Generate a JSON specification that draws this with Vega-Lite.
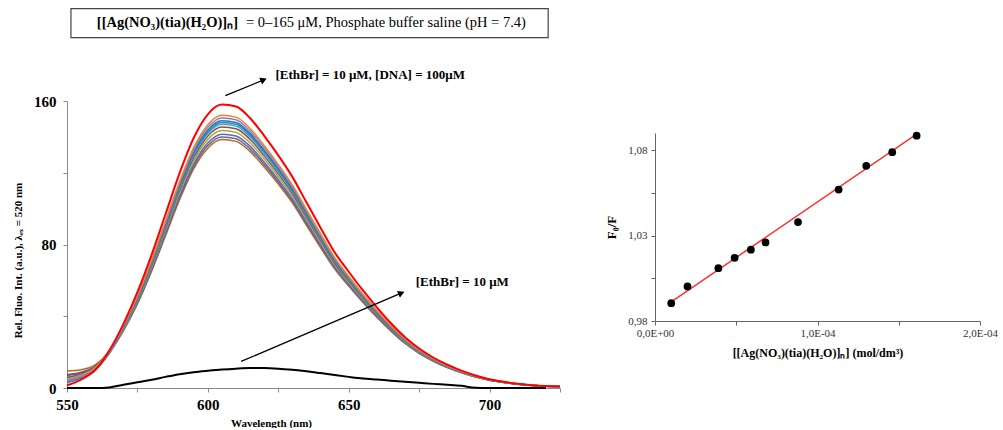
{
  "$schema": "https://vega.github.io/schema/vega-lite/v6.json",
  "background": "white",
  "padding": {"top": 8, "left": 12, "right": 0, "bottom": 0},
  "config": {
    "view": {"stroke": null},
    "font": "Liberation Serif",
    "axis": {"grid": false, "domainColor": "#8a8a8a", "tickColor": "#8a8a8a", "tickSize": 4, "labelColor": "#000", "titleColor": "#000"}
  },
  "spacing": 41,
  "datasets": {
    "spec": [
      {"w":550,"s00":0,"s01":9.5,"s02":7.5,"s03":3.5,"s04":5.5,"s05":7,"s06":4.5,"s07":3,"s08":6,"s09":4,"s10":5,"s11":1.5},
      {"w":555,"s00":0,"s01":10.2,"s02":8.8,"s03":5.8,"s04":7.3,"s05":8.5,"s06":6.7,"s07":5.6,"s08":7.8,"s09":6.4,"s10":7.2,"s11":4.7},
      {"w":560,"s00":0,"s01":12.9,"s02":12.0,"s03":10.0,"s04":11.2,"s05":12.0,"s06":10.9,"s07":10.2,"s08":11.7,"s09":10.8,"s10":11.4,"s11":10.0},
      {"w":565,"s00":0.3,"s01":20.3,"s02":20.0,"s03":19.2,"s04":19.9,"s05":20.6,"s06":20.1,"s07":19.9,"s08":20.8,"s09":20.5,"s10":20.9,"s11":20.8},
      {"w":570,"s00":1.8,"s01":31.9,"s02":32.1,"s03":32.1,"s04":32.7,"s05":33.3,"s06":33.4,"s07":33.5,"s08":34.0,"s09":34.2,"s10":34.6,"s11":35.6},
      {"w":575,"s00":3.2,"s01":46.8,"s02":47.3,"s03":47.8,"s04":48.5,"s05":49.2,"s06":49.7,"s07":50.0,"s08":50.4,"s09":50.9,"s10":51.4,"s11":53.4},
      {"w":580,"s00":4.6,"s01":65.0,"s02":65.7,"s03":66.4,"s04":67.3,"s05":68.2,"s06":68.9,"s07":69.4,"s08":69.9,"s09":70.6,"s10":71.3,"s11":74.1},
      {"w":585,"s00":6.2,"s01":85.0,"s02":85.9,"s03":86.9,"s04":88.1,"s05":89.3,"s06":90.2,"s07":90.8,"s08":91.5,"s09":92.4,"s10":93.3,"s11":97.0},
      {"w":590,"s00":7.7,"s01":105.1,"s02":106.2,"s03":107.3,"s04":108.9,"s05":110.4,"s06":111.5,"s07":112.3,"s08":113.0,"s09":114.2,"s10":115.3,"s11":119.9},
      {"w":595,"s00":8.8,"s01":122.3,"s02":123.6,"s03":124.9,"s04":126.7,"s05":128.4,"s06":129.8,"s07":130.6,"s08":131.5,"s09":132.9,"s10":134.2,"s11":139.5},
      {"w":600,"s00":9.6,"s01":133.7,"s02":135.2,"s03":136.6,"s04":138.6,"s05":140.5,"s06":141.9,"s07":142.9,"s08":143.9,"s09":145.3,"s10":146.8,"s11":152.6},
      {"w":605,"s00":10.3,"s01":138.5,"s02":140.0,"s03":141.5,"s04":143.5,"s05":145.5,"s06":147.0,"s07":148.0,"s08":149.0,"s09":150.5,"s10":152.0,"s11":158.0},
      {"w":610,"s00":10.8,"s01":137.5,"s02":139.0,"s03":140.5,"s04":142.5,"s05":144.5,"s06":146.0,"s07":147.0,"s08":148.0,"s09":149.5,"s10":151.0,"s11":156.9},
      {"w":615,"s00":11.1,"s01":131.8,"s02":133.2,"s03":134.7,"s04":136.6,"s05":138.5,"s06":139.9,"s07":140.9,"s08":141.8,"s09":143.2,"s10":144.7,"s11":150.4},
      {"w":620,"s00":11.1,"s01":123.2,"s02":124.6,"s03":125.9,"s04":127.7,"s05":129.4,"s06":130.8,"s07":131.7,"s08":132.6,"s09":133.9,"s10":135.2,"s11":140.6},
      {"w":625,"s00":10.8,"s01":113.7,"s02":114.9,"s03":116.1,"s04":117.8,"s05":119.4,"s06":120.6,"s07":121.5,"s08":122.3,"s09":123.5,"s10":124.7,"s11":129.7},
      {"w":630,"s00":10.2,"s01":103.2,"s02":104.3,"s03":105.4,"s04":106.9,"s05":108.4,"s06":109.5,"s07":110.2,"s08":111.0,"s09":112.1,"s10":113.2,"s11":117.7},
      {"w":635,"s00":9.4,"s01":90.7,"s02":91.7,"s03":92.7,"s04":94.0,"s05":95.3,"s06":96.3,"s07":97.0,"s08":97.6,"s09":98.6,"s10":99.6,"s11":103.5},
      {"w":640,"s00":8.3,"s01":78.3,"s02":79.2,"s03":80.0,"s04":81.2,"s05":82.3,"s06":83.1,"s07":83.7,"s08":84.3,"s09":85.1,"s10":86.0,"s11":89.4},
      {"w":645,"s00":7.2,"s01":66.4,"s02":67.1,"s03":67.8,"s04":68.8,"s05":69.7,"s06":70.5,"s07":70.9,"s08":71.4,"s09":72.1,"s10":72.8,"s11":75.7},
      {"w":650,"s00":6.2,"s01":56.8,"s02":57.4,"s03":58.0,"s04":58.8,"s05":59.6,"s06":60.3,"s07":60.7,"s08":61.1,"s09":61.7,"s10":62.3,"s11":64.8},
      {"w":655,"s00":5.3,"s01":47.8,"s02":48.3,"s03":48.8,"s04":49.5,"s05":50.2,"s06":50.7,"s07":51.0,"s08":51.4,"s09":51.9,"s10":52.4,"s11":54.5},
      {"w":660,"s00":4.7,"s01":39.4,"s02":39.8,"s03":40.3,"s04":40.8,"s05":41.3,"s06":41.8,"s07":42.1,"s08":42.4,"s09":42.8,"s10":43.3,"s11":45.0},
      {"w":665,"s00":4.1,"s01":31.7,"s02":32.0,"s03":32.3,"s04":32.8,"s05":33.2,"s06":33.6,"s07":33.8,"s08":34.0,"s09":34.4,"s10":34.7,"s11":36.1},
      {"w":670,"s00":3.5,"s01":24.8,"s02":25.1,"s03":25.4,"s04":25.7,"s05":26.1,"s06":26.4,"s07":26.5,"s08":26.7,"s09":27.0,"s10":27.3,"s11":28.3},
      {"w":675,"s00":2.9,"s01":19.3,"s02":19.5,"s03":19.7,"s04":20.0,"s05":20.3,"s06":20.5,"s07":20.6,"s08":20.8,"s09":21.0,"s10":21.2,"s11":22.0},
      {"w":680,"s00":2.3,"s01":14.9,"s02":15.1,"s03":15.2,"s04":15.4,"s05":15.7,"s06":15.8,"s07":15.9,"s08":16.0,"s09":16.2,"s10":16.4,"s11":17.0},
      {"w":685,"s00":1.8,"s01":11.4,"s02":11.5,"s03":11.6,"s04":11.8,"s05":11.9,"s06":12.1,"s07":12.1,"s08":12.2,"s09":12.4,"s10":12.5,"s11":13.0},
      {"w":690,"s00":1.2,"s01":8.5,"s02":8.6,"s03":8.7,"s04":8.8,"s05":8.9,"s06":9.0,"s07":9.1,"s08":9.1,"s09":9.2,"s10":9.3,"s11":9.7},
      {"w":695,"s00":0.1,"s01":6.1,"s02":6.2,"s03":6.2,"s04":6.3,"s05":6.4,"s06":6.5,"s07":6.5,"s08":6.6,"s09":6.6,"s10":6.7,"s11":7.0},
      {"w":700,"s00":0,"s01":4.3,"s02":4.3,"s03":4.4,"s04":4.5,"s05":4.5,"s06":4.6,"s07":4.6,"s08":4.6,"s09":4.7,"s10":4.7,"s11":4.9},
      {"w":705,"s00":0,"s01":3.1,"s02":3.1,"s03":3.1,"s04":3.2,"s05":3.2,"s06":3.2,"s07":3.3,"s08":3.3,"s09":3.3,"s10":3.4,"s11":3.5},
      {"w":710,"s00":0,"s01":2.1,"s02":2.1,"s03":2.1,"s04":2.2,"s05":2.2,"s06":2.2,"s07":2.2,"s08":2.3,"s09":2.3,"s10":2.3,"s11":2.4},
      {"w":715,"s00":0,"s01":1.4,"s02":1.4,"s03":1.5,"s04":1.5,"s05":1.5,"s06":1.5,"s07":1.5,"s08":1.5,"s09":1.6,"s10":1.6,"s11":1.6},
      {"w":720,"s00":0,"s01":1.0,"s02":1.0,"s03":1.0,"s04":1.0,"s05":1.0,"s06":1.0,"s07":1.0,"s08":1.0,"s09":1.0,"s10":1.0,"s11":1.1},
      {"w":725,"s00":null,"s01":0.8,"s02":0.8,"s03":0.8,"s04":0.8,"s05":0.8,"s06":0.8,"s07":0.8,"s08":0.8,"s09":0.8,"s10":0.8,"s11":0.9}
    ],
    "sv": [
      {"c":0.00001,"r":0.9904},
      {"c":0.00002,"r":1.0002},
      {"c":0.000039,"r":1.0109},
      {"c":0.000049,"r":1.0170},
      {"c":0.000059,"r":1.0217},
      {"c":0.000068,"r":1.0260},
      {"c":0.000088,"r":1.0379},
      {"c":0.000113,"r":1.0569},
      {"c":0.000130,"r":1.0708},
      {"c":0.000146,"r":1.0788},
      {"c":0.000161,"r":1.0884}
    ],
    "fit": [
      {"c":0.00001,"r":0.9912},
      {"c":0.000161,"r":1.0893}
    ]
  },
  "hconcat": [
    {
      "width": 493,
      "height": 287,
      "layer": [
        {
          "data": {"name": "spec"},
          "transform": [
            {"fold": ["s00","s01","s02","s03","s04","s05","s06","s07","s08","s09","s10","s11"], "as": ["key","v"]},
            {"filter": "isValid(datum.v)"}
          ],
          "mark": {"type": "line", "interpolate": "monotone"},
          "encoding": {
            "x": {"field": "w", "type": "quantitative", "scale": {"domain": [550, 725], "nice": false, "zero": false},
              "axis": {"values": [550,575,600,625,650,675,700,725], "labelExpr": "datum.value % 50 == 0 ? datum.label : ''", "title": "Wavelength (nm)", "labelFont": "Liberation Serif", "labelFontWeight": "bold", "labelFontSize": 15, "labelPadding": 5, "titleFont": "Liberation Serif", "titleFontWeight": "bold", "titleFontSize": 11, "titlePadding": 5, "titleX": 204, "labelFlush": false}},
            "y": {"field": "v", "type": "quantitative", "scale": {"domain": [0, 160], "nice": false},
              "axis": {"values": [0,40,80,120,160], "labelExpr": "datum.value % 80 == 0 ? datum.label : ''", "title": "Rel. Fluo. Int. (a.u.), λₑₓ = 520 nm", "labelFont": "Liberation Serif", "labelFontWeight": "bold", "labelFontSize": 15, "labelPadding": 7, "titleFont": "Liberation Serif", "titleFontWeight": "bold", "titleFontSize": 11, "titlePadding": 10, "titleY": 159, "labelFlush": false}},
            "color": {"field": "key", "type": "nominal", "legend": null,
              "scale": {"domain": ["s00","s01","s02","s03","s04","s05","s06","s07","s08","s09","s10","s11"],
                        "range": ["#000000","#C0651E","#4F6FA8","#7A5C9E","#8DB04F","#A8423F","#22B0E0","#2E8FA8","#3E6DB0","#8E7CC3","#E8862E","#FF0000"]}},
            "strokeWidth": {"condition": {"test": "datum.key === 's11' || datum.key === 's00'", "value": 2}, "value": 1.5}
          }
        },
        {
          "data": {"values": [{"w": 551.4, "w2": 720.8, "v": 195.3, "v2": 211.5}]},
          "mark": {"type": "rect", "fill": "transparent", "stroke": "#444444", "strokeWidth": 1.2},
          "encoding": {
            "x": {"field": "w", "type": "quantitative"}, "x2": {"field": "w2"},
            "y": {"field": "v", "type": "quantitative"}, "y2": {"field": "v2"}
          }
        },
        {
          "data": {"values": [{"w": 560.6, "v": 203.3, "t": "[[Ag(NO₃)(tia)(H₂O)]ₙ]"}]},
          "mark": {"type": "text", "align": "left", "baseline": "middle", "font": "Liberation Serif", "fontWeight": "bold", "fontSize": 14.5, "color": "#000"},
          "encoding": {"x": {"field": "w", "type": "quantitative"}, "y": {"field": "v", "type": "quantitative"}, "text": {"field": "t"}}
        },
        {
          "data": {"values": [{"w": 613.5, "v": 203.3, "t": "= 0–165 μM, Phosphate buffer saline (pH = 7.4)"}]},
          "mark": {"type": "text", "align": "left", "baseline": "middle", "font": "Liberation Serif", "fontSize": 14.5, "color": "#000"},
          "encoding": {"x": {"field": "w", "type": "quantitative"}, "y": {"field": "v", "type": "quantitative"}, "text": {"field": "t"}}
        },
        {
          "data": {"values": [{"w": 606.2, "v": 163, "w2": 619.6, "v2": 171.6}, {"w": 611.8, "v": 14.8, "w2": 668.4, "v2": 52.8}]},
          "mark": {"type": "rule", "color": "#000", "strokeWidth": 1.3},
          "encoding": {
            "x": {"field": "w", "type": "quantitative"}, "x2": {"field": "w2"},
            "y": {"field": "v", "type": "quantitative"}, "y2": {"field": "v2"}
          }
        },
        {
          "data": {"values": [{"w": 619.8, "v": 171.8}, {"w": 668.7, "v": 52.9}]},
          "mark": {"type": "point", "shape": "triangle-right", "filled": true, "color": "#000", "size": 55, "angle": 337, "opacity": 1},
          "encoding": {"x": {"field": "w", "type": "quantitative"}, "y": {"field": "v", "type": "quantitative"}}
        },
        {
          "data": {"values": [{"w": 624, "v": 174.7, "t": "[EthBr] = 10 μM, [DNA] = 100μM"}, {"w": 673.8, "v": 58.9, "t": "[EthBr] = 10 μM"}]},
          "mark": {"type": "text", "align": "left", "baseline": "middle", "font": "Liberation Serif", "fontWeight": "bold", "fontSize": 13, "color": "#000"},
          "encoding": {"x": {"field": "w", "type": "quantitative"}, "y": {"field": "v", "type": "quantitative"}, "text": {"field": "t"}}
        }
      ]
    },
    {
      "spacing": 0,
      "vconcat": [
        {
          "width": 325,
          "height": 30,
          "data": {"values": [{}]},
          "mark": {"type": "text"},
          "encoding": {"text": {"value": ""}}
        },
        {
          "width": 325,
          "height": 188,
          "layer": [
            {
              "data": {"name": "fit"},
              "mark": {"type": "line", "color": "#FF3030", "strokeWidth": 1.5},
              "encoding": {
                "x": {"field": "c", "type": "quantitative", "scale": {"domain": [0, 0.0002], "nice": false},
                  "axis": {"values": [0, 0.00005, 0.0001, 0.00015, 0.0002], "labelExpr": "abs(datum.value) < 1e-9 ? '0,0E+00' : (abs(datum.value - 0.0001) < 1e-9 ? '1,0E-04' : (abs(datum.value - 0.0002) < 1e-9 ? '2,0E-04' : ''))", "title": "[[Ag(NO₃)(tia)(H₂O)]ₙ] (mol/dm³)", "labelFont": "Liberation Serif", "labelFontSize": 11, "labelColor": "#333", "labelPadding": 2, "titleFont": "Liberation Serif", "titleFontWeight": "bold", "titleFontSize": 12, "titlePadding": 9, "labelFlush": false, "domainColor": "#666", "tickColor": "#666"}},
                "y": {"field": "r", "type": "quantitative", "scale": {"domain": [0.98, 1.09], "nice": false, "zero": false},
                  "axis": {"values": [0.98, 1.005, 1.03, 1.055, 1.08], "labelExpr": "abs(datum.value - 0.98) < 1e-6 ? '0,98' : (abs(datum.value - 1.03) < 1e-6 ? '1,03' : (abs(datum.value - 1.08) < 1e-6 ? '1,08' : ''))", "title": "F₀/F", "labelFont": "Liberation Serif", "labelFontSize": 11, "labelColor": "#333", "labelPadding": 4, "titleFont": "Liberation Serif", "titleFontWeight": "bold", "titleFontSize": 13, "titlePadding": 9, "labelFlush": false, "domainColor": "#666", "tickColor": "#666"}}
              }
            },
            {
              "data": {"name": "sv"},
              "mark": {"type": "circle", "color": "#000", "size": 60, "opacity": 1},
              "encoding": {
                "x": {"field": "c", "type": "quantitative"},
                "y": {"field": "r", "type": "quantitative"}
              }
            }
          ]
        }
      ]
    }
  ]
}
